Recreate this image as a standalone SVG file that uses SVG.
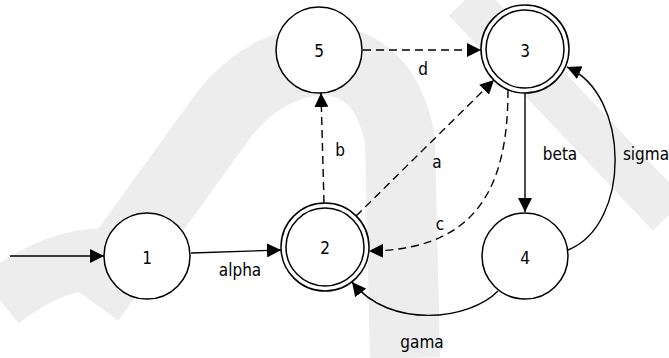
<svg xmlns="http://www.w3.org/2000/svg" width="669" height="358" viewBox="0 0 669 358">
<style>
.node circle{fill:#fff;stroke:#000;stroke-width:1.5}
.edge{fill:none;stroke:#000;stroke-width:1.4}
.dash{stroke-dasharray:8 5}
text{font-family:"DejaVu Sans Condensed","DejaVu Sans",sans-serif;font-stretch:condensed;font-size:17px;fill:#000;text-anchor:middle}
.wm{fill:none;stroke:#ededed}
</style>
<defs>
<marker id="arr" markerUnits="userSpaceOnUse" viewBox="0 0 14 14" markerWidth="14" markerHeight="14" refX="14" refY="7" orient="auto">
<path d="M0,0 L14,7 L0,14 z" fill="#000"/>
</marker>
</defs>
<rect width="669" height="358" fill="#fff"/>
<g id="watermark">
<path class="wm" stroke-width="70" d="M90 300 L220 120 Q260 65 320 60 Q385 60 400 140 L405 358"/>
<path class="wm" stroke-width="45" d="M465 0 L669 215"/>
<path class="wm" stroke-width="60" d="M0 300 Q70 245 140 262"/>
</g>
<g id="connectors">
<path class="edge" d="M10 256 L104 256" marker-end="url(#arr)"/>
<path class="edge" d="M191 253 L281 250" marker-end="url(#arr)"/>
<path class="edge dash" d="M324 203 L321 93" marker-end="url(#arr)"/>
<path class="edge dash" d="M356 216 L494 80" marker-end="url(#arr)"/>
<path class="edge dash" d="M363 50 L481 50" marker-end="url(#arr)"/>
<path class="edge dash" d="M508 90 C508 190 475 250 369 251" marker-end="url(#arr)"/>
<path class="edge" d="M525 93 L525 212" marker-end="url(#arr)"/>
<path class="edge" d="M568 250 C631 225 631 95 567 67" marker-end="url(#arr)"/>
<path class="edge" d="M498 291 C470 320 390 330 352 282" marker-end="url(#arr)"/>
<text x="240" y="276">alpha</text>
<text x="340" y="156">b</text>
<text x="437" y="168">a</text>
<text x="440" y="230">c</text>
<text x="423" y="75">d</text>
<text x="560" y="160">beta</text>
<text x="646" y="160">sigma</text>
<text x="422" y="348">gama</text>
</g>
<g id="node1" class="node"><circle cx="147" cy="256" r="43"/><text x="147" y="264">1</text></g>
<g id="node2" class="node"><circle cx="325" cy="247" r="44"/><circle cx="325" cy="247" r="39"/><text x="325" y="254">2</text></g>
<g id="node3" class="node"><circle cx="525" cy="49" r="44"/><circle cx="525" cy="49" r="39"/><text x="525" y="57">3</text></g>
<g id="node4" class="node"><circle cx="525" cy="256" r="43"/><text x="525" y="264">4</text></g>
<g id="node5" class="node"><circle cx="319" cy="50" r="43"/><text x="319" y="57">5</text></g>
</svg>
